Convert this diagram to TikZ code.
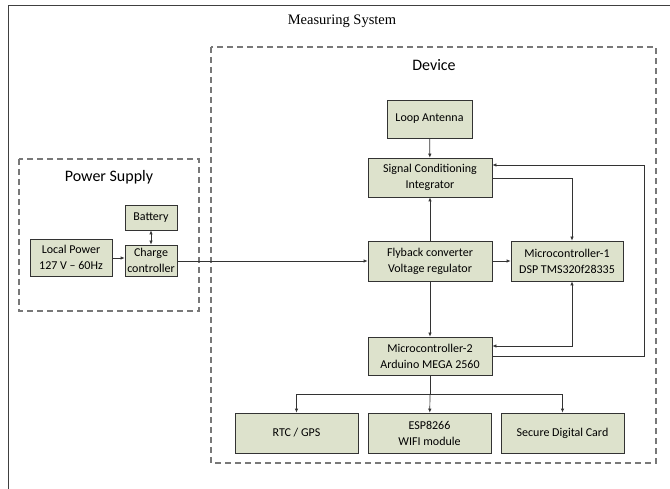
\documentclass[tikz,border=0pt]{standalone}
\usepackage{fontspec}
\setmainfont{Liberation Serif}
\newfontfamily\boxfont{Carlito}
\usetikzlibrary{arrows.meta}
\definecolor{boxfill}{RGB}{221,226,204}
\definecolor{frameGray}{RGB}{120,120,120}
\begin{document}
\begin{tikzpicture}[x=1pt,y=-1pt,
  blk/.style={draw=black!80,fill=boxfill,line width=0.7pt,align=center,
    font=\boxfont\fontsize{12}{16}\selectfont,inner sep=0pt},
  grp/.style={draw=frameGray,line width=1.1pt,dash pattern=on 6pt off 4pt},
  conn/.style={draw=black!80,line width=0.7pt},
  arr/.style={conn,-{Latex[length=4pt,width=3.5pt]}},
  darr/.style={conn,{Latex[length=4pt,width=3.5pt]}-{Latex[length=4pt,width=3.5pt]}},
  title/.style={font=\boxfont\fontsize{16}{19}\selectfont}]
\useasboundingbox (0,0) rectangle (670,489);
% outer frame edges
\draw[line width=0.8pt,black!75] (670,5) -- (8,5) -- (8,489);
\node[font=\fontsize{14.5}{17}\selectfont] (ms) at (342,21) {Measuring System};

% group frames
\draw[grp] (211,47) rectangle (656,463);
\node[title] (dev) at (434,65) {Device};
\draw[grp] (19,159) rectangle (199,311);
\node[title] (ps) at (109,177) {Power Supply};

% power supply blocks
\node[blk,minimum width=52pt,minimum height=25pt] (bat) at (151,217.5) {Battery};
\node[blk,minimum width=52pt,minimum height=31pt] (cc) at (151,260.5) {Charge\\controller};
\node[blk,minimum width=82pt,minimum height=37pt] (lp) at (71,257.5) {Local Power\\127 V – 60Hz};

% device blocks
\node[blk,minimum width=85pt,minimum height=38pt] (ant) at (429.5,119) {Loop Antenna};
\node[blk,minimum width=124pt,minimum height=39pt] (sc) at (430,177.5) {Signal Conditioning\\Integrator};
\node[blk,minimum width=124pt,minimum height=40pt] (fb) at (430,261) {Flyback converter\\Voltage regulator};
\node[blk,minimum width=112pt,minimum height=40pt] (m1) at (567,261) {Microcontroller-1\\DSP TMS320f28335};
\node[blk,minimum width=124pt,minimum height=38pt] (m2) at (430,356) {Microcontroller-2\\Arduino MEGA 2560};
\node[blk,minimum width=123pt,minimum height=40pt] (rtc) at (296.5,433) {RTC / GPS};
\node[blk,minimum width=123pt,minimum height=40pt] (esp) at (429.5,433) {ESP8266\\WIFI module};
\node[blk,minimum width=123pt,minimum height=40pt] (sd) at (562.5,433) {Secure Digital Card};

% connectors
\coordinate (br) at (430,394);
\coordinate (loopR) at (644,165);
\path[arr] (lp.east |- 0,258) -- (cc.west |- 0,258);
\path[darr] (bat) -- (cc);
\path[arr] (cc.east |- 0,261) -- (fb.west |- 0,261);
\path[arr] (ant) -- (sc);
\path[arr] (fb) -- (sc);
\path[arr] (fb) -- (m2);
\path[arr] (fb) -- (m1);
\path[arr] (sc.east |- 0,178) -| (m1.north -| 572,0);
\path[darr] (m1.south -| 572,0) |- (m2.east |- 0,346);
\path[arr] (m2.east |- 0,356) -| (loopR) -- (sc.east |- loopR);
\path[conn] (m2) -- (br);
\path[arr] (br) -- (esp);
\path[arr] (br) -| (rtc.north);
\path[arr] (br) -| (sd.north);
\end{tikzpicture}
\end{document}
